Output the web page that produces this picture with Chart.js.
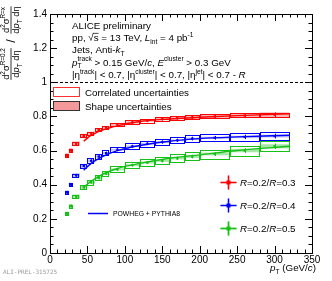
<!DOCTYPE html>
<html>
<head>
<meta charset="utf-8">
<title>Jet cross section ratio</title>
<script src="https://cdn.jsdelivr.net/npm/chart.js@4.4.0/dist/chart.umd.min.js"></script>
<style>
  html, body { margin: 0; padding: 0; background: #fff; }
  #container { width: 332px; height: 281px; }
</style>
</head>
<body>
<div id="container"><canvas id="vis"></canvas></div>
<script>
// pT bins (GeV/c)
const binEdges = [20, 25, 30, 40, 50, 60, 70, 80, 100, 120, 140, 160, 180, 200, 240, 280, 320];
const binCenters = binEdges.slice(1).map((e, i) => (e + binEdges[i]) / 2);

// ratios R=0.2 / R=x
const ratio03 = [0.57, 0.60, 0.64, 0.685, 0.70, 0.72, 0.735, 0.75, 0.765, 0.775, 0.785, 0.79, 0.795, 0.80, 0.805, 0.81];
const ratio04 = [0.355, 0.40, 0.455, 0.51, 0.54, 0.565, 0.585, 0.605, 0.625, 0.64, 0.65, 0.66, 0.67, 0.675, 0.68, 0.685];
const ratio05 = [0.23, 0.275, 0.33, 0.385, 0.415, 0.44, 0.465, 0.49, 0.515, 0.53, 0.54, 0.555, 0.565, 0.58, 0.60, 0.625];

const stat03 = [0.003, 0.003, 0.003, 0.003, 0.003, 0.003, 0.003, 0.003, 0.003, 0.003, 0.004, 0.004, 0.005, 0.005, 0.007, 0.008];
const stat04 = [0.003, 0.003, 0.003, 0.003, 0.003, 0.003, 0.003, 0.003, 0.003, 0.003, 0.004, 0.004, 0.005, 0.005, 0.007, 0.008];
const stat05 = [0.003, 0.003, 0.003, 0.003, 0.003, 0.003, 0.003, 0.003, 0.003, 0.003, 0.004, 0.004, 0.005, 0.006, 0.008, 0.01];

const corr03 = [0.01, 0.01, 0.01, 0.01, 0.01, 0.01, 0.01, 0.01, 0.012, 0.012, 0.012, 0.012, 0.012, 0.012, 0.013, 0.013];
const shape03 = [0.015, 0.015, 0.014, 0.013, 0.011, 0.009, 0.008, 0.007, 0.007, 0.007, 0.007, 0.008, 0.009, 0.01, 0.012, 0.014];
const corr04 = [0.008, 0.008, 0.01, 0.012, 0.014, 0.015, 0.016, 0.016, 0.017, 0.018, 0.018, 0.019, 0.02, 0.02, 0.022, 0.022];
const shape04 = [0.012, 0.012, 0.012, 0.012, 0.009, 0.007, 0.006, 0.005, 0.005, 0.005, 0.005, 0.005, 0.006, 0.006, 0.007, 0.008];
const corr05 = [0.008, 0.008, 0.01, 0.012, 0.014, 0.015, 0.016, 0.017, 0.018, 0.02, 0.02, 0.022, 0.024, 0.025, 0.028, 0.03];
const shape05 = [0.012, 0.012, 0.013, 0.013, 0.011, 0.009, 0.007, 0.006, 0.006, 0.006, 0.006, 0.007, 0.008, 0.008, 0.01, 0.012];

// POWHEG + PYTHIA8 curves
const powhegPt = [45, 55, 70, 90, 120, 160, 200, 250, 320];
const powheg03 = [0.655, 0.69, 0.72, 0.745, 0.77, 0.785, 0.795, 0.805, 0.815];
const powheg04 = [0.485, 0.525, 0.565, 0.60, 0.63, 0.655, 0.67, 0.68, 0.69];
const powheg05 = [0.385, 0.42, 0.46, 0.495, 0.525, 0.555, 0.575, 0.60, 0.625];

const seriesLabels = ['0.3', '0.4', '0.5'];
const colors = ['#ff0000', '#0000ff', '#16c016'];
const fills = ['rgba(240,90,90,0.45)', 'rgba(110,110,255,0.45)', 'rgba(60,200,60,0.45)'];

const FONT = '"Liberation Sans", Arial, sans-serif';

const series = [
  { val: ratio03, stat: stat03, corr: corr03, shape: shape03 },
  { val: ratio04, stat: stat04, corr: corr04, shape: shape04 },
  { val: ratio05, stat: stat05, corr: corr05, shape: shape05 },
];

// draw a run of text pieces: [text, mode] with mode containing i (italic), ^ (sup), _ (sub), o (overline)
// or {sup, sub} for stacked indices
function rich(ctx, x, y, parts, fs) {
  for (const p of parts) {
    if (!Array.isArray(p)) {
      ctx.font = (fs * 0.68) + 'px ' + FONT;
      ctx.fillText(p.sup, x, y - fs * 0.42);
      ctx.fillText(p.sub, x, y + fs * 0.28);
      x += Math.max(ctx.measureText(p.sup).width, ctx.measureText(p.sub).width);
      continue;
    }
    const t = p[0], m = p[1] || '';
    const small = m.includes('^') || m.includes('_');
    const size = small ? fs * 0.68 : fs;
    ctx.font = (m.includes('i') ? 'italic ' : '') + size + 'px ' + FONT;
    const dy = m.includes('^') ? -fs * 0.42 : (m.includes('_') ? fs * 0.28 : 0);
    ctx.fillText(t, x, y + dy);
    const w = ctx.measureText(t).width;
    if (m.includes('o')) {
      ctx.save();
      ctx.lineWidth = 0.7;
      ctx.beginPath();
      ctx.moveTo(x - 1, y - fs * 0.78);
      ctx.lineTo(x + w, y - fs * 0.78);
      ctx.stroke();
      ctx.restore();
    }
    x += w;
  }
  return x;
}

function richWidth(ctx, parts, fs) {
  let w = 0;
  for (const p of parts) {
    if (!Array.isArray(p)) {
      ctx.font = (fs * 0.68) + 'px ' + FONT;
      w += Math.max(ctx.measureText(p.sup).width, ctx.measureText(p.sub).width);
      continue;
    }
    const m = p[1] || '';
    const small = m.includes('^') || m.includes('_');
    ctx.font = (m.includes('i') ? 'italic ' : '') + (small ? fs * 0.68 : fs) + 'px ' + FONT;
    w += ctx.measureText(p[0]).width;
  }
  return w;
}

const boxPlugin = {
  id: 'boxes',
  beforeDatasetsDraw(chart) {
    const { ctx, scales: { x, y } } = chart;
    ctx.save();
    series.forEach((s, k) => {
      s.val.forEach((v, i) => {
        const x0 = x.getPixelForValue(binEdges[i]);
        const x1 = x.getPixelForValue(binEdges[i + 1]);
        // shape uncertainty (filled)
        const sy0 = y.getPixelForValue(v + s.shape[i]);
        const sy1 = y.getPixelForValue(v - s.shape[i]);
        ctx.fillStyle = fills[k];
        ctx.fillRect(x0, sy0, x1 - x0, sy1 - sy0);
        // correlated uncertainty (open)
        const cy0 = y.getPixelForValue(v + s.corr[i]);
        const cy1 = y.getPixelForValue(v - s.corr[i]);
        ctx.strokeStyle = colors[k];
        ctx.lineWidth = 1;
        ctx.strokeRect(Math.round(x0) + 0.5, Math.round(cy0) + 0.5, Math.round(x1 - x0) - 1, Math.round(cy1 - cy0));
      });
    });
    ctx.restore();
  },
  afterDatasetsDraw(chart) {
    const { ctx, scales: { x, y } } = chart;
    ctx.save();
    series.forEach((s, k) => {
      ctx.strokeStyle = colors[k];
      ctx.lineWidth = 1;
      s.val.forEach((v, i) => {
        const px = Math.round(x.getPixelForValue(binCenters[i])) + 0.5;
        ctx.beginPath();
        ctx.moveTo(px, y.getPixelForValue(v + s.stat[i]) - 1);
        ctx.lineTo(px, y.getPixelForValue(v - s.stat[i]) + 1);
        ctx.stroke();
      });
    });
    ctx.restore();
  }
};

const decorPlugin = {
  id: 'decor',
  afterDraw(chart) {
    const { ctx, chartArea: a, scales: { x, y } } = chart;
    ctx.save();
    ctx.strokeStyle = '#000';
    ctx.fillStyle = '#000';
    ctx.lineWidth = 1;

    // dashed line at 1
    const y1 = Math.round(y.getPixelForValue(1)) + 0.5;
    ctx.setLineDash([3, 2]);
    ctx.beginPath();
    ctx.moveTo(a.left, y1);
    ctx.lineTo(a.right, y1);
    ctx.stroke();
    ctx.setLineDash([]);

    // frame
    ctx.strokeRect(Math.round(a.left) + 0.5, Math.round(a.top) + 0.5, Math.round(a.right - a.left), Math.round(a.bottom - a.top));

    // ticks inside on all sides
    ctx.beginPath();
    for (let v = 0; v <= 350.001; v += 10) {
      const px = Math.round(x.getPixelForValue(v)) + 0.5;
      const len = (Math.round(v) % 50 === 0) ? 7 : 3.5;
      ctx.moveTo(px, a.bottom); ctx.lineTo(px, a.bottom - len);
      ctx.moveTo(px, a.top); ctx.lineTo(px, a.top + len);
    }
    for (let i = 0; i <= 28; i++) {
      const v = i * 0.05;
      const py = Math.round(y.getPixelForValue(v)) + 0.5;
      const len = (i % 4 === 0) ? 7 : 3.5;
      ctx.moveTo(a.left, py); ctx.lineTo(a.left + len, py);
      ctx.moveTo(a.right, py); ctx.lineTo(a.right - len, py);
    }
    ctx.stroke();

    ctx.textBaseline = 'alphabetic';
    ctx.textAlign = 'left';

    // header text
    const fs = 9.8;
    const tx = 72;
    rich(ctx, tx, 28.5, [['ALICE preliminary']], fs);
    rich(ctx, tx, 41, [['pp, √'], ['s', 'o'], [' = 13 TeV, '], ['L', 'i'], ['int', '_'], [' = 4 pb'], ['-1', '^']], fs);
    rich(ctx, tx, 53, [['Jets, Anti-'], ['k', 'i'], ['T', '_']], fs);
    rich(ctx, tx, 65.5, [['p', 'i'], { sup: 'track', sub: 'T' }, [' > 0.15 GeV/'], ['c', 'i'], [', '], ['E', 'i'], ['cluster', '^'], [' > 0.3 GeV']], fs);
    rich(ctx, tx, 78, [['|η'], ['track', '^'], ['| < 0.7, |η'], ['cluster', '^'], ['| < 0.7, |η'], ['jet', '^'], ['| < 0.7 - '], ['R', 'i']], fs);

    // uncertainty legend
    ctx.lineWidth = 1;
    ctx.fillStyle = '#fff';
    ctx.strokeStyle = '#ff3030';
    ctx.fillRect(53.5, 87.5, 26, 9);
    ctx.strokeRect(53.5, 87.5, 26, 9);
    ctx.fillStyle = 'rgba(240,110,110,0.7)';
    ctx.fillRect(53.5, 101.5, 26, 9);
    ctx.strokeStyle = '#333';
    ctx.strokeRect(53.5, 101.5, 26, 9);
    ctx.fillStyle = '#000';
    rich(ctx, 85, 95.5, [['Correlated uncertainties']], fs);
    rich(ctx, 85, 109.5, [['Shape uncertainties']], fs);

    // series legend
    const rows = [182, 205, 228];
    seriesLabels.forEach((lab, k) => {
      const cx = 228.5, cy = rows[k] + 0.5;
      ctx.strokeStyle = fills[k];
      ctx.lineWidth = 3;
      ctx.beginPath();
      ctx.moveTo(cx - 8, cy); ctx.lineTo(cx + 8, cy);
      ctx.moveTo(cx, cy - 7); ctx.lineTo(cx, cy + 7);
      ctx.stroke();
      ctx.strokeStyle = colors[k];
      ctx.lineWidth = 1;
      ctx.beginPath();
      ctx.moveTo(cx - 8, cy); ctx.lineTo(cx + 8, cy);
      ctx.moveTo(cx, cy - 7); ctx.lineTo(cx, cy + 7);
      ctx.stroke();
      ctx.fillStyle = colors[k];
      ctx.fillRect(cx - 2, cy - 2, 4, 4);
      ctx.fillStyle = '#000';
      rich(ctx, 240, rows[k] + 3.5, [['R', 'i'], ['=0.2/'], ['R', 'i'], ['=' + lab]], fs);
    });

    // POWHEG legend
    ctx.strokeStyle = colors[1];
    ctx.lineWidth = 1.5;
    ctx.beginPath();
    ctx.moveTo(88, 213.5); ctx.lineTo(108, 213.5);
    ctx.stroke();
    ctx.fillStyle = '#000';
    rich(ctx, 113, 216, [['POWHEG + PYTHIA8']], 6.8);

    // x axis title
    const xt = [['p', 'i'], ['T', '_'], [' (GeV/'], ['c', 'i'], [')']];
    rich(ctx, 316 - richWidth(ctx, xt, fs), 271, xt, fs);

    // y axis title (rotated)
    const yfs = 9.4;
    const num1 = [['d'], ['2', '^'], ['σ'], ['R=0.2', '^']];
    const num2 = [['d'], ['2', '^'], ['σ'], ['R=x', '^']];
    const den = [['d'], ['p', 'i'], ['T', '_'], [' d'], ['η']];
    const frac = (cx, cy, num) => {
      ctx.save();
      ctx.translate(cx, cy);
      ctx.rotate(-Math.PI / 2);
      const wn = richWidth(ctx, num, yfs), wd = richWidth(ctx, den, yfs);
      const w = Math.max(wn, wd);
      rich(ctx, -wn / 2, -2.5, num, yfs);
      rich(ctx, -wd / 2, 8, den, yfs);
      ctx.lineWidth = 0.8;
      ctx.strokeStyle = '#000';
      ctx.beginPath();
      ctx.moveTo(-w / 2, 0); ctx.lineTo(w / 2, 0);
      ctx.stroke();
      ctx.restore();
    };
    ctx.fillStyle = '#000';
    frac(11, 64, num1);
    frac(11, 20, num2);
    ctx.save();
    ctx.translate(11, 41);
    ctx.rotate(-Math.PI / 2);
    ctx.font = '13px ' + FONT;
    ctx.textAlign = 'center';
    ctx.fillText('/', 0, 4);
    ctx.restore();

    // figure id
    ctx.fillStyle = '#999';
    ctx.font = '6px "DejaVu Sans Mono", monospace';
    ctx.fillText('ALI-PREL-315725', 3, 274);

    ctx.restore();
  }
};

const datasets = [];
[powheg03, powheg04, powheg05].forEach((curve, k) => {
  datasets.push({
    data: powhegPt.map((p, i) => ({ x: p, y: curve[i] })),
    showLine: true,
    borderColor: colors[k],
    borderWidth: 1.4,
    pointRadius: 0,
    tension: 0.4,
    cubicInterpolationMode: 'monotone',
  });
});
series.forEach((s, k) => {
  datasets.push({
    data: binCenters.map((p, i) => ({ x: p, y: s.val[i] })),
    showLine: false,
    pointStyle: 'rect',
    pointRadius: 1.6,
    backgroundColor: colors[k],
    borderColor: colors[k],
    borderWidth: 0,
  });
});

new Chart(document.getElementById('vis'), {
  type: 'scatter',
  data: { datasets },
  options: {
    responsive: true,
    maintainAspectRatio: false,
    animation: false,
    layout: { padding: { left: 0, right: 20, top: 14, bottom: 0 } },
    plugins: { legend: { display: false }, tooltip: { enabled: false } },
    scales: {
      x: {
        type: 'linear', min: 0, max: 350,
        grid: { display: false, drawTicks: false },
        border: { display: false },
        ticks: { stepSize: 50, padding: 1, color: '#000', font: { family: FONT, size: 10 }, maxRotation: 0 },
        afterFit(scale) { scale.height = 28; },
      },
      y: {
        type: 'linear', min: 0, max: 1.4,
        grid: { display: false, drawTicks: false },
        border: { display: false },
        ticks: { stepSize: 0.2, padding: 3, color: '#000', font: { family: FONT, size: 10 },
                 callback: (v) => String(+v.toFixed(1)) },
        afterFit(scale) { scale.width = 50; },
      },
    },
  },
  plugins: [boxPlugin, decorPlugin],
});
</script>
</body>
</html>
